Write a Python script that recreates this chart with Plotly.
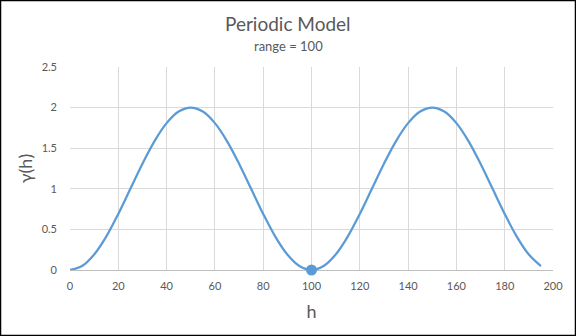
import plotly.graph_objects as go

h = [0, 5, 10, 15, 20, 25, 30, 35, 40, 45, 50, 55, 60, 65, 70, 75, 80, 85, 90, 95,
     100, 105, 110, 115, 120, 125, 130, 135, 140, 145, 150, 155, 160, 165, 170, 175,
     180, 185, 190, 195]
gamma = [0.0, 0.049, 0.191, 0.412, 0.691, 1.0, 1.309, 1.588, 1.809, 1.951, 2.0,
         1.951, 1.809, 1.588, 1.309, 1.0, 0.691, 0.412, 0.191, 0.049,
         0.0, 0.049, 0.191, 0.412, 0.691, 1.0, 1.309, 1.588, 1.809, 1.951, 2.0,
         1.951, 1.809, 1.588, 1.309, 1.0, 0.691, 0.412, 0.191, 0.049]
range_h = [100]
range_g = [0]

x_ticks = [0, 20, 40, 60, 80, 100, 120, 140, 160, 180, 200]
y_ticks = [0, 0.5, 1, 1.5, 2, 2.5]
y_labels = ["0", "0.5", "1", "1.5", "2", "2.5"]

FONT = "Lato, Open Sans, sans-serif"
GRAY = "#595959"
BLUE = "#5B9BD5"

fig = go.Figure()
fig.add_trace(go.Scatter(x=h, y=gamma, mode="lines",
                         line=dict(color=BLUE, width=2.25, shape="spline", smoothing=1.0),
                         hoverinfo="skip"))
fig.add_trace(go.Scatter(x=range_h, y=range_g, mode="markers",
                         marker=dict(color=BLUE, size=11), cliponaxis=False))

L, R, T, B = 70, 23, 67, 66
W, H = 576, 336
pw, ph = W - L - R, H - T - B

fig.update_layout(
    width=W, height=H, margin=dict(l=L, r=R, t=T, b=B),
    paper_bgcolor="white", plot_bgcolor="white", showlegend=False,
    font=dict(family=FONT, color=GRAY, size=11),
    xaxis=dict(range=[0, 200], tickvals=x_ticks, showgrid=True, gridcolor="#D9D9D9",
               gridwidth=1, zeroline=False, showline=True, linecolor="#BFBFBF",
               layer="below traces",
               ticks="", ticklabelstandoff=6, tickfont=dict(size=11, color=GRAY),
               title=dict(text="h", font=dict(size=18, color=GRAY), standoff=14)),
    yaxis=dict(range=[0, 2.5], tickvals=y_ticks, ticktext=y_labels, showgrid=True,
               gridcolor="#D9D9D9", gridwidth=1, zeroline=False, showline=False,
               layer="below traces",
               ticks="", ticklabelstandoff=12, tickfont=dict(size=11, color=GRAY),
               title=dict(text="γ(h)", font=dict(size=18, color=GRAY), standoff=4)),
    annotations=[
        dict(text="Periodic Model", xref="paper", yref="paper",
             x=(288 - L) / pw, y=(H - B - 24) / ph, xanchor="center", yanchor="middle",
             showarrow=False, font=dict(size=19, color=GRAY, family=FONT)),
        dict(text="range = 100", xref="paper", yref="paper",
             x=(288 - L) / pw, y=(H - B - 46) / ph, xanchor="center", yanchor="middle",
             showarrow=False, font=dict(size=13, color=GRAY, family=FONT)),
    ],
    shapes=[dict(type="rect", xref="paper", yref="paper",
                 x0=(0.5 - L) / pw, x1=(W - 0.5 - L) / pw,
                 y0=(H - B - (H - 0.5)) / ph, y1=(H - B - 0.5) / ph,
                 line=dict(color="black", width=1.5), layer="above")],
)

fig.write_html("out.html")
